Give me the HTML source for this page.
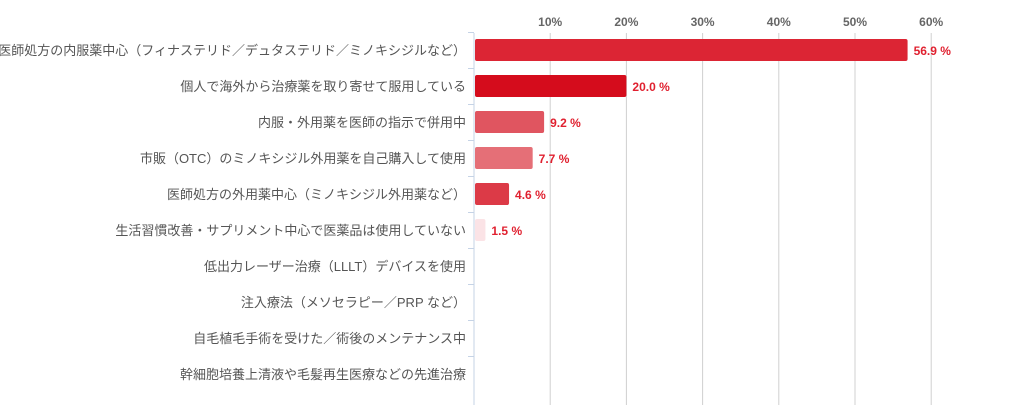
<!DOCTYPE html>
<html><head><meta charset="utf-8"><style>
body{margin:0;background:#fff;}
svg text{font-family:"Liberation Sans","Noto Sans CJK JP",sans-serif;}
</style></head><body>
<svg id="chart" width="1024" height="405" xmlns="http://www.w3.org/2000/svg"></svg>
<script>
const categories=["医師処方の内服薬中心（フィナステリド／デュタステリド／ミノキシジルなど）","個人で海外から治療薬を取り寄せて服用している","内服・外用薬を医師の指示で併用中","市販（OTC）のミノキシジル外用薬を自己購入して使用","医師処方の外用薬中心（ミノキシジル外用薬など）","生活習慣改善・サプリメント中心で医薬品は使用していない","低出力レーザー治療（LLLT）デバイスを使用","注入療法（メソセラピー／PRP など）","自毛植毛手術を受けた／術後のメンテナンス中","幹細胞培養上清液や毛髪再生医療などの先進治療"];
const values=[56.9,20.0,9.2,7.7,4.6,1.5,0,0,0,0];
const ticks=[10,20,30,40,50,60];
const barColors=["#dc2534","#d50c1c","#e05560","#e56f77","#dc3a47","#fbe3e6","#dc2534","#dc2534","#dc2534","#dc2534"];
const NS="http://www.w3.org/2000/svg";
const svg=document.getElementById('chart');
const x0=474,pxPer=7.62,rowTop=32,rowH=36,barH=22;
const xs=v=>x0+v*pxPer;
const rowY=i=>rowTop+i*rowH;
function mk(t,a){const e=document.createElementNS(NS,t);for(const k in a)e.setAttribute(k,a[k]);svg.appendChild(e);return e;}
ticks.forEach(t=>{
  const g=mk('line',{x1:xs(t),x2:xs(t),y1:33,y2:405,stroke:'#d0d0d0','stroke-width':1});
  
  
  const tx=mk('text',{x:xs(t),y:26,'text-anchor':'middle','font-size':12,'font-weight':'bold',fill:'#666'});
  tx.textContent=t+'%';
  
  
});
const ax=mk('line',{x1:x0,x2:x0,y1:33,y2:405,stroke:'#c5d3e6','stroke-width':1});


categories.forEach((c,i)=>{
  const tk=mk('line',{x1:x0-6,x2:x0,y1:rowY(i)+0.5,y2:rowY(i)+0.5,stroke:'#c5d3e6'});
  
  
  const cy=rowY(i)+rowH/2;
  const lb=mk('text',{x:466,y:cy+5,'text-anchor':'end','font-size':13,fill:'#555'});
  lb.textContent=c;
  
  
  const v=values[i];
  if(v>0){
    const w=xs(v)-x0;
    const b=mk('rect',{x:x0+1,y:cy-barH/2,width:w-1,height:barH,rx:2,fill:barColors[i]});
    
    
    const vl=mk('text',{x:xs(v)+6,y:cy+5,'font-size':12,'font-weight':'bold',fill:'#e0202f'});
    vl.textContent=v.toFixed(1)+' %';
    
    
  }
});
</script>
</body></html>
